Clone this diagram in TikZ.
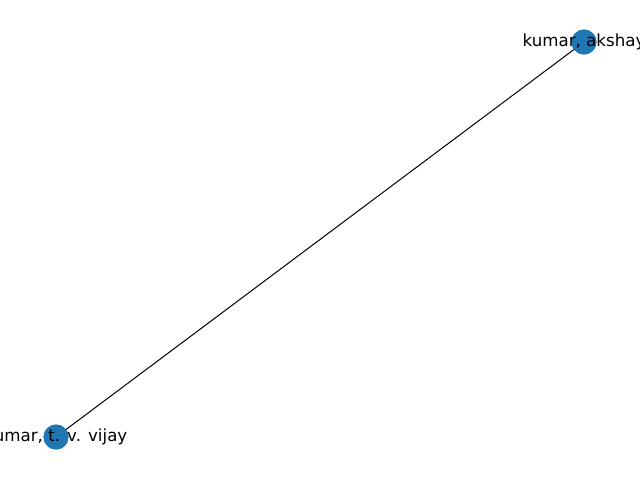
\documentclass[tikz,border=0pt]{standalone}
\usepackage{fontspec}
\setmainfont{DejaVu Sans}
\definecolor{nodeblue}{HTML}{1F77B4}
\begin{document}
\begin{tikzpicture}[x=0.75pt,y=-0.75pt,
  vertex/.style={circle,fill=nodeblue,draw=none,minimum size=18.75pt,inner sep=0pt},
  vlabel/.style={font=\fontsize{12.5pt}{15pt}\selectfont,text=black,inner sep=0pt},
  edge/.style={draw=black,line width=0.75pt}]
\useasboundingbox (0,0) rectangle (640,480);
\clip (0,0) rectangle (640,480);
\node[vertex] (a) at (584,42) {};
\node[vertex] (b) at (56,437) {};
\draw[edge] (a.center) -- (b.center);
\node[vertex] at (a.center) {};
\node[vertex] at (b.center) {};
\node[vlabel] (la) at (a.center) {kumar, akshay};
\node[vlabel] (lb) at (b.center) {kumar, t. v. vijay};
\end{tikzpicture}
\end{document}
